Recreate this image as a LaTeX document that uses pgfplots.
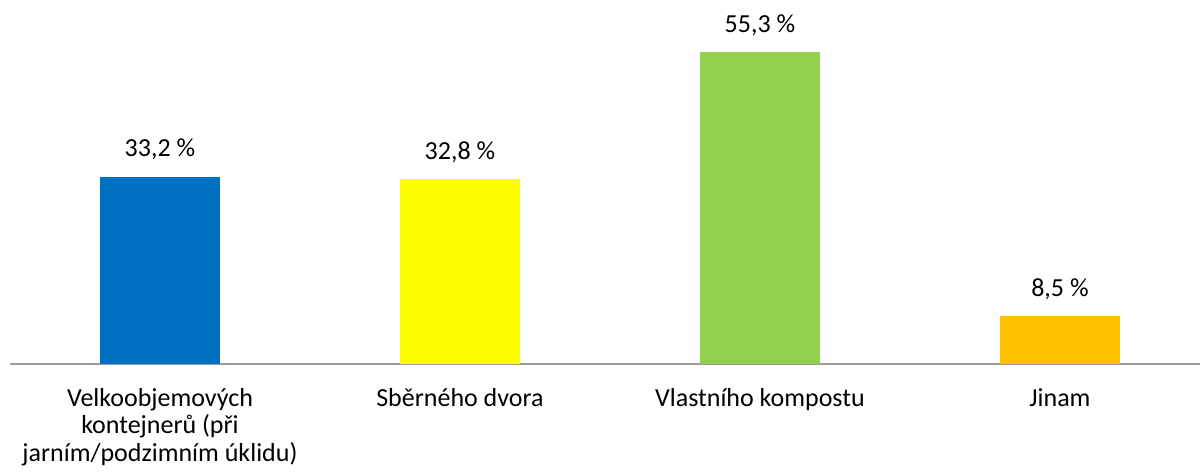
\documentclass[border=0pt]{standalone}
\usepackage{pgfplots}
\pgfplotsset{compat=1.18}
\usepackage{fontspec}
\setmainfont{Carlito}
\definecolor{cblue}{HTML}{0070C0}
\definecolor{cyellow}{HTML}{FFFF00}
\definecolor{cgreen}{HTML}{92D050}
\definecolor{corange}{HTML}{FFC000}
\definecolor{axgray}{HTML}{9A9A9A}
\begin{document}
\begin{tikzpicture}
\useasboundingbox (0,0) rectangle (1200bp,475bp);
\begin{axis}[
  at={(10bp,111bp)}, anchor=south west,
  scale only axis,
  width=1190bp, height=338.4bp,
  xmin=-0.5, xmax=3.467,
  ymin=0, ymax=60,
  axis x line=bottom,
  axis y line=none,
  axis line style={axgray, line width=1.3bp, -},
  xtick={0,1,2,3},
  xticklabels={{Velkoobjemových\\kontejnerů (při\\jarním/podzimním úklidu)},{Sběrného dvora},{Vlastního kompostu},{Jinam}},
  major tick length=0pt,
  xticklabel style={anchor=north, align=center, inner sep=0pt, yshift=-24bp,
    font=\fontsize{26bp}{27.5bp}\selectfont},
  ybar, bar width=120bp, bar shift=0pt,
  /pgf/number format/assume math mode=true,
  nodes near coords={\pgfmathprintnumber[use comma,fixed,precision=1,fixed zerofill,assume math mode=true]{\pgfplotspointmeta}~\%},
  every node near coord/.append style={anchor=base, yshift=20bp, inner sep=0pt,
    font=\fontsize{26bp}{27.5bp}\selectfont, text=black},
  clip=false,
]
\addplot[fill=cblue, draw=none] coordinates {(0,33.2)};
\addplot[fill=cyellow, draw=none] coordinates {(1,32.8)};
\addplot[fill=cgreen, draw=none] coordinates {(2,55.3)};
\addplot[fill=corange, draw=none] coordinates {(3,8.5)};
\end{axis}
\end{tikzpicture}
\end{document}
